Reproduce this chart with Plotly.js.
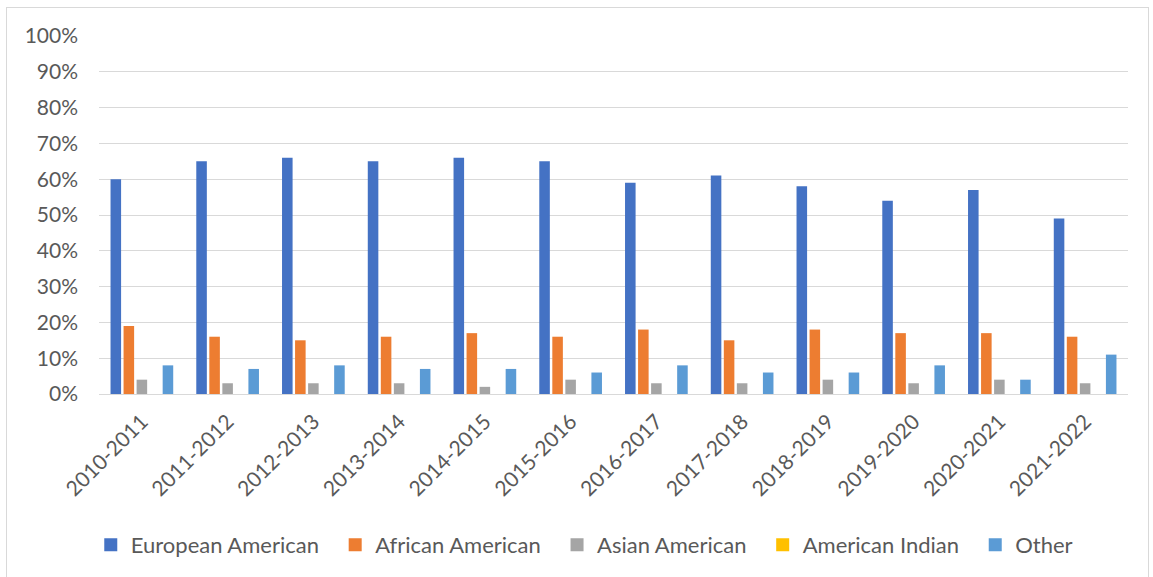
<!DOCTYPE html>
<html>
<head>
<meta charset="utf-8">
<script src="https://cdn.plot.ly/plotly-3.0.1.min.js"></script>
<style>
  html, body { margin: 0; padding: 0; background: #fff; }
  #wrap { position: relative; width: 1153px; height: 577px; overflow: hidden; }
  #frame { position: absolute; left: 6px; top: 7px; width: 1143px; height: 580px; border: 1px solid #d9d9d9; box-sizing: border-box; pointer-events: none; }
  #chart { position: absolute; left: 0; top: 0; width: 1153px; height: 577px; }
</style>
</head>
<body>
<div id="wrap">
  <div id="chart"></div>
  <div id="frame"></div>
</div>
<script>
const categories = ["2010-2011","2011-2012","2012-2013","2013-2014","2014-2015","2015-2016","2016-2017","2017-2018","2018-2019","2019-2020","2020-2021","2021-2022"];
const europeanAmerican = [0.60,0.65,0.66,0.65,0.66,0.65,0.59,0.61,0.58,0.54,0.57,0.49];
const africanAmerican  = [0.19,0.16,0.15,0.16,0.17,0.16,0.18,0.15,0.18,0.17,0.17,0.16];
const asianAmerican    = [0.04,0.03,0.03,0.03,0.02,0.04,0.03,0.03,0.04,0.03,0.04,0.03];
const americanIndian   = [0,0,0,0,0,0,0,0,0,0,0,0];
const other            = [0.08,0.07,0.08,0.07,0.07,0.06,0.08,0.06,0.06,0.08,0.04,0.11];
const seriesNames = ["European American","African American","Asian American","American Indian","Other"];
const seriesValues = [europeanAmerican, africanAmerican, asianAmerican, americanIndian, other];
const colors = ["#4472C4","#ED7D31","#A5A5A5","#FFC000","#5B9BD5"];

const FONT = "Lato, 'Open Sans', sans-serif";
const TEXT = "#595959";

const barTraces = seriesNames.map((n, i) => ({
  type: "bar",
  name: n,
  x: categories,
  y: seriesValues[i],
  marker: { color: colors[i], line: { width: 0 } },
  showlegend: false,
  legendgroup: n
}));

// legend entries drawn with small square swatches, like the reference
const legendTraces = seriesNames.map((n, i) => ({
  type: "scatter",
  mode: "markers",
  name: n + "\u00a0\u00a0",
  x: [categories[0]],
  y: [null],
  marker: { color: colors[i], symbol: "square", size: 13 },
  showlegend: true,
  legendgroup: n,
  hoverinfo: "skip"
}));

const layout = {
  width: 1153,
  height: 577,
  margin: { l: 99, r: 25, t: 36, b: 182 },
  paper_bgcolor: "rgba(0,0,0,0)",
  plot_bgcolor: "rgba(0,0,0,0)",
  barmode: "group",
  bargap: 0.24,
  bargroupgap: 0.19,
  font: { family: FONT, size: 21, color: TEXT },
  xaxis: {
    type: "category",
    range: [-0.5, categories.length - 0.5],
    autorange: false,
    tickangle: -45,
    tickfont: { family: FONT, size: 21, color: TEXT },
    showgrid: false,
    showline: true,
    linecolor: "#d9d9d9",
    linewidth: 1,
    ticks: "",
    ticklabelstandoff: 6,
    fixedrange: true
  },
  yaxis: {
    range: [0, 1],
    dtick: 0.1,
    tick0: 0,
    tickformat: ".0%",
    tickfont: { family: FONT, size: 21, color: TEXT },
    showgrid: true,
    gridcolor: "#d9d9d9",
    gridwidth: 1,
    zeroline: false,
    showline: false,
    ticks: "",
    ticklabelstandoff: 20,
    fixedrange: true
  },
  showlegend: true,
  legend: {
    orientation: "h",
    x: -0.008,
    xanchor: "left",
    y: -0.418,
    yanchor: "middle",
    font: { family: FONT, size: 22, color: TEXT },
    traceorder: "normal",
    bgcolor: "rgba(0,0,0,0)"
  }
};

Plotly.newPlot("chart", barTraces.concat(legendTraces), layout, { displayModeBar: false, staticPlot: true });
</script>
</body>
</html>
